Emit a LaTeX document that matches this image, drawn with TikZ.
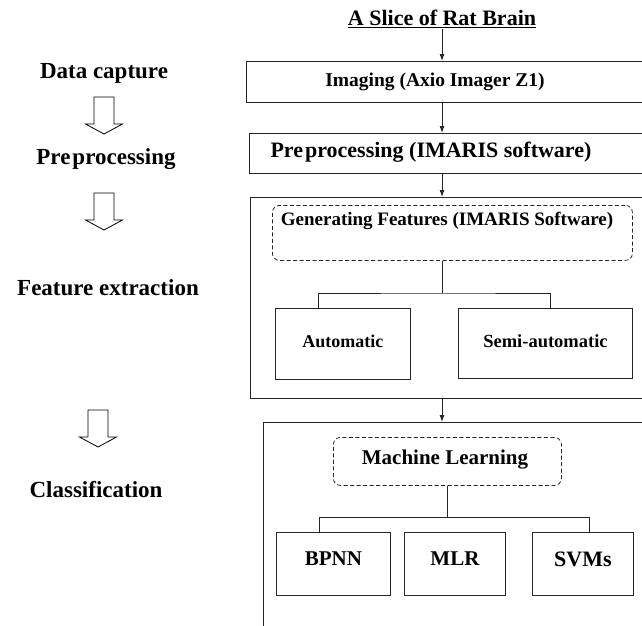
\documentclass[tikz,border=0pt]{standalone}
\usepackage{fontspec}
\setmainfont{Liberation Serif}
\usetikzlibrary{arrows.meta}

\tikzset{
  txt/.style={font=\bfseries\fontsize{#1pt}{#1pt}\selectfont, inner sep=1pt},
  frame/.style={draw=black!85, line width=0.9pt, anchor=north west, inner sep=0pt},
  dashframe/.style={draw=black!85, line width=0.8pt, dash pattern=on 4pt off 2.5pt,
    rounded corners=7pt, anchor=north west, inner sep=0pt},
  box/.style={draw=black!85, line width=0.9pt, anchor=north west, inner sep=0pt},
  line/.style={draw=black!85, line width=0.9pt},
  arr/.style={line, -{Latex[length=7pt,width=5pt]}},
  hollow/.style={draw=black, line width=0.8pt, fill=white}
}

\begin{document}
\begin{tikzpicture}[x=1pt, y=-1pt]
  \useasboundingbox (0,0) rectangle (642,625);
  \clip (0,0) rectangle (642,625);

  % stage names
  \node[txt=23] (capture) at (104,73) {Data capture};
  \node[txt=23] (prep) at (106,159) {Pre\hspace{2pt}processing};
  \node[txt=23] (featx) at (108,288) {Feature extraction};
  \node[txt=23] (classlbl) at (96,490) {Classification};
  \foreach \x/\y in {104/97, 104/193, 98/410}
    \draw[hollow] (\x-10,\y) -- (\x+10,\y) -- (\x+10,\y+27) -- (\x+18.5,\y+27)
      -- (\x,\y+37) -- (\x-18.5,\y+27) -- (\x-10,\y+27) -- cycle;

  % pipeline
  \node[txt=22] (title) at (442,19) {\underline{A Slice of Rat Brain}};
  \node[frame, minimum width=420pt, minimum height=41pt] (imgframe) at (246,61) {};
  \node[txt=19.5] (imaging) at (435,82) {Imaging (Axio Imager Z1)};
  \node[frame, minimum width=420pt, minimum height=40pt] (prepframe) at (249,133) {};
  \node[txt=22] (preproc) at (431,152) {Pre\hspace{2pt}processing (IMARIS software)};

  \node[frame, minimum width=420pt, minimum height=201pt] (featframe) at (250,197) {};
  \node[dashframe, minimum width=360pt, minimum height=55pt] (genfeat) at (272,205) {};
  \node[txt=19] (genlbl) at (447,221) {Generating Features (IMARIS Software)};
  \node[box, txt=18, text height=12pt, text depth=4pt, minimum width=135pt, minimum height=71pt] (auto) at (275,308) {Automatic};
  \node[box, txt=18.5, text height=12pt, text depth=3pt, minimum width=174pt, minimum height=70pt] (semiauto) at (458,308) {Semi-automatic};

  \node[frame, minimum width=420pt, minimum height=260pt] (classframe) at (263,422) {};
  \node[dashframe, minimum width=228pt, minimum height=48pt] (mlearn) at (333,437) {};
  \node[txt=21] (mllbl) at (445,460) {Machine Learning};
  \node[box, txt=21, text height=14pt, text depth=10pt, minimum width=114pt, minimum height=63pt] (bpnn) at (276,532) {BPNN};
  \node[box, txt=21, text height=14pt, text depth=11pt, minimum width=101pt, minimum height=63pt] (mlr) at (404,532) {MLR};
  \node[box, txt=22, text height=14pt, text depth=8pt, minimum width=101pt, minimum height=63pt] (svms) at (532,532) {SVMs};

  % connectors
  \draw[arr] (title.south) -- (title.south |- imgframe.north);
  \draw[arr] (imgframe.south -| title) -- (prepframe.north -| title);
  \draw[arr] (prepframe.south -| title) -- (featframe.north -| title);
  \draw[arr] (featframe.south -| title) -- (classframe.north -| title);

  \coordinate (fork1) at (442,293);
  \draw[line] (genfeat.south -| fork1) -- (fork1);
  \draw[line] ([xshift=-24.5pt]auto.north) |- (fork1) -| ([xshift=5pt]semiauto.north);
  \coordinate (fork2) at (447,517);
  \draw[line] (mlearn.south -| fork2) -- (fork2);
  \draw[line] ([xshift=-14pt]bpnn.north) |- (fork2) -| ([xshift=6.5pt]svms.north);
\end{tikzpicture}
\end{document}
